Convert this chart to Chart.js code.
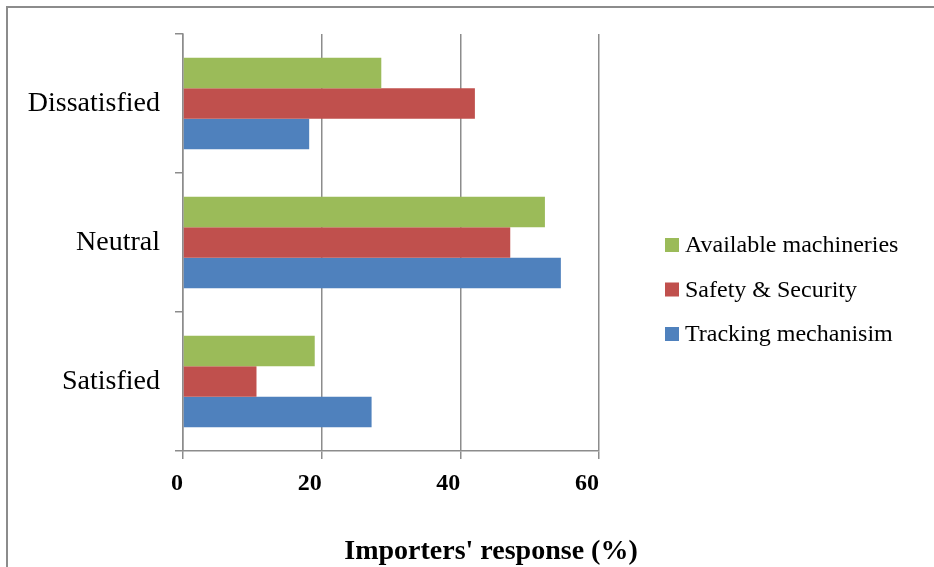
<!DOCTYPE html>
<html>
<head>
<meta charset="utf-8">
<script src="https://cdn.jsdelivr.net/npm/chart.js@4/dist/chart.umd.min.js"></script>
<style>
    html, body { margin: 0; padding: 0; background: #fff; }
    #wrap { position: relative; width: 934px; height: 567px; overflow: hidden; }
    #frame {
        position: absolute; left: 6px; top: 6px; width: 1000px; height: 700px;
        border-left: 2px solid #8c8c8c; border-top: 2px solid #8c8c8c;
    }
    #responseChart { position: absolute; left: 0; top: 0; }
</style>
</head>
<body>
<div id="wrap">
    <div id="frame"></div>
    <canvas id="responseChart" width="934" height="567"></canvas>
</div>
<script>
/* ============================================
   IMPORTERS' RESPONSE DATA
   ============================================ */

const categories = ["Dissatisfied", "Neutral", "Satisfied"];
const seriesNames = ["Available machineries", "Safety & Security", "Tracking mechanisim"];
const machineries = [28.6, 52.2, 19.0];
const safety = [42.1, 47.2, 10.6];
const tracking = [18.2, 54.5, 27.2];
const xTicks = [0, 20, 40, 60];
const axisTitle = "Importers' response (%)";

const colors = ["#9bbb59", "#c0504d", "#4f81bd"];
const serif = "'Liberation Serif', 'Times New Roman', serif";

/* ============================================
   LEGEND + AXIS TITLE (drawn by hand)
   ============================================ */

const sideLegend = {
    id: "sideLegend",
    afterDraw(chart) {
        const ctx = chart.ctx;
        ctx.save();
        ctx.font = "24px " + serif;
        ctx.textBaseline = "alphabetic";
        chart.data.datasets.forEach(function (ds, i) {
            const y = 245 + i * 44.5;
            ctx.fillStyle = ds.backgroundColor;
            ctx.fillRect(665, y - 7, 14, 14);
            ctx.fillStyle = "#000";
            ctx.textAlign = "left";
            ctx.fillText(ds.label, 685, y + 7);
        });

        ctx.font = "bold 28px " + serif;
        ctx.textAlign = "center";
        ctx.fillText(axisTitle, 491, 559);
        ctx.restore();
    }
};

/* ============================================
   BAR CHART
   ============================================ */

document.addEventListener("DOMContentLoaded", function () {

    const ctx = document.getElementById("responseChart");

    new Chart(ctx, {
        type: "bar",
        data: {
            labels: categories,
            datasets: [machineries, safety, tracking].map(function (vals, i) {
                return {
                    label: seriesNames[i],
                    data: vals,
                    backgroundColor: colors[i],
                    borderWidth: 0,
                    categoryPercentage: 0.66,
                    barPercentage: 1.0
                };
            })
        },
        options: {
            indexAxis: "y",
            responsive: false,
            animation: false,
            layout: {
                padding: { left: 0, top: 34, right: 335, bottom: 0 }
            },
            plugins: {
                legend: { display: false },
                tooltip: { enabled: false }
            },
            scales: {
                x: {
                    min: 0,
                    max: 60,
                    afterBuildTicks: function (scale) {
                        scale.ticks = xTicks.map(function (v) { return { value: v }; });
                    },
                    afterFit: function (scale) { scale.height = 116; },
                    grid: {
                        color: "#8c8c8c",
                        lineWidth: 1.5,
                        tickLength: 8
                    },
                    border: { color: "#8c8c8c", width: 1.5 },
                    ticks: {
                        color: "#000",
                        align: "end",
                        padding: 10,
                        font: { family: serif, size: 24, weight: "bold" }
                    }
                },
                y: {
                    afterFit: function (scale) { scale.width = 183; },
                    grid: {
                        drawOnChartArea: false,
                        color: "#8c8c8c",
                        lineWidth: 1.5,
                        tickLength: 8
                    },
                    border: { color: "#8c8c8c", width: 1.5 },
                    ticks: {
                        color: "#000",
                        padding: 15,
                        font: { family: serif, size: 28 }
                    }
                }
            }
        },
        plugins: [sideLegend]
    });
});
</script>
</body>
</html>
